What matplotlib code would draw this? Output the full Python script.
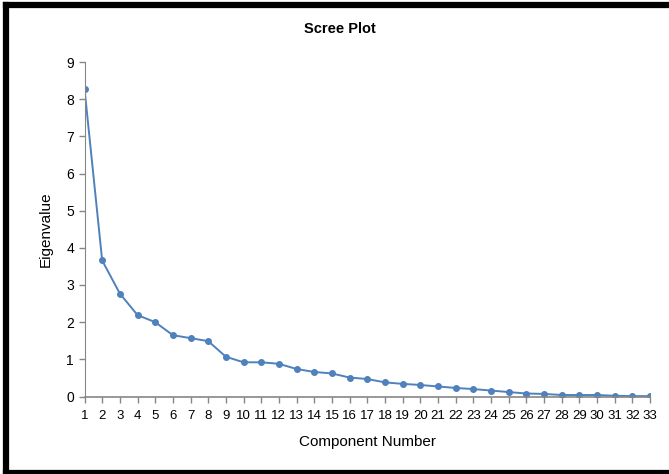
import matplotlib.pyplot as plt
from matplotlib.lines import Line2D

# eigenvalues
components = list(range(1, 34))
eigenvalues = [8.28, 3.66, 2.77, 2.19, 2.0, 1.65, 1.57, 1.49, 1.07, 0.92,
               0.92, 0.88, 0.74, 0.66, 0.62, 0.51, 0.47, 0.38, 0.34, 0.31,
               0.27, 0.23, 0.20, 0.16, 0.12, 0.08, 0.07, 0.04, 0.04, 0.04,
               0.02, 0.01, 0.01]
y_ticks = list(range(0, 10))

plt.rcParams['font.family'] = ['Liberation Sans', 'DejaVu Sans']

fig = plt.figure(figsize=(6.69, 4.74), dpi=100)
ax = fig.add_axes([84.5/669, 1 - 396.5/474, (650 - 84.5)/669, (396.5 - 62)/474])

ax.plot(components, eigenvalues, color='#4F81BD', marker='o', markersize=4,
        linewidth=1.4)

ax.set_xlim(1, 33)
ax.set_ylim(0, 9)
ax.set_xticks(components)
ax.set_xticklabels([str(c) for c in components], fontsize=9.5)
ax.set_yticks(y_ticks)
ax.set_yticklabels([str(v) for v in y_ticks], fontsize=10)
ax.tick_params(axis='both', direction='out', length=4, width=1, color='#868686')
ax.tick_params(axis='x', pad=6)

for s in ['top', 'right']:
    ax.spines[s].set_visible(False)
for s in ['left', 'bottom']:
    ax.spines[s].set_color('#868686')
ax.spines['bottom'].set_linewidth(1.2)

ax.set_xlabel('Component Number', fontsize=11, labelpad=9)
ax.set_ylabel('Eigenvalue', fontsize=11, labelpad=10)
fig.text(340/669, 1 - 29/474, 'Scree Plot', ha='center', va='center',
         fontsize=10.5, fontweight='bold')

# black frame: top, left and bottom edges (right side is cropped)
W, H = 669.0, 474.0
frame = dict(color='black', linewidth=4.5, solid_capstyle='projecting',
             transform=fig.transFigure)
fig.lines.append(Line2D([6/W, 1], [1 - 5/H, 1 - 5/H], **frame))
fig.lines.append(Line2D([6/W, 6/W], [1 - 5/H, 2/H], **frame))
fig.lines.append(Line2D([6/W, 1], [1.5/H, 1.5/H], **frame))

fig.savefig('out.png', dpi=100)
